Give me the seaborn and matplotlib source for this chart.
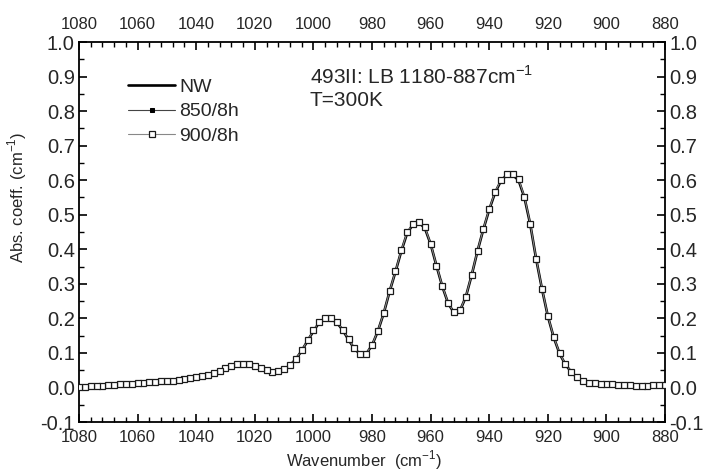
import matplotlib
matplotlib.use("Agg")
import matplotlib.pyplot as plt
import seaborn as sns
import pandas as pd
from matplotlib.ticker import MultipleLocator

wavenumber = [1080, 1078, 1076, 1074, 1072, 1070, 1068, 1066, 1064, 1062,
              1060, 1058, 1056, 1054, 1052, 1050, 1048, 1046, 1044, 1042,
              1040, 1038, 1036, 1034, 1032, 1030, 1028, 1026, 1024, 1022,
              1020, 1018, 1016, 1014, 1012, 1010, 1008, 1006, 1004, 1002,
              1000, 998, 996, 994, 992, 990, 988, 986, 984, 982,
              980, 978, 976, 974, 972, 970, 968, 966, 964, 962,
              960, 958, 956, 954, 952, 950, 948, 946, 944, 942,
              940, 938, 936, 934, 932, 930, 928, 926, 924, 922,
              920, 918, 916, 914, 912, 910, 908, 906, 904, 902,
              900, 898, 896, 894, 892, 890, 888, 886, 884, 882, 880]

nw = [0.000, 0.001, 0.002, 0.003, 0.004, 0.005, 0.006, 0.008, 0.009, 0.011,
      0.012, 0.013, 0.014, 0.016, 0.017, 0.018, 0.019, 0.021, 0.023, 0.025,
      0.028, 0.032, 0.036, 0.041, 0.047, 0.054, 0.061, 0.066, 0.068, 0.066,
      0.061, 0.055, 0.049, 0.045, 0.046, 0.052, 0.064, 0.082, 0.106, 0.135,
      0.163, 0.188, 0.200, 0.198, 0.188, 0.166, 0.138, 0.112, 0.096, 0.097,
      0.122, 0.163, 0.215, 0.278, 0.335, 0.395, 0.447, 0.472, 0.477, 0.462,
      0.415, 0.352, 0.292, 0.243, 0.216, 0.222, 0.262, 0.325, 0.395, 0.458,
      0.515, 0.564, 0.598, 0.616, 0.615, 0.600, 0.550, 0.472, 0.372, 0.285,
      0.206, 0.145, 0.098, 0.066, 0.045, 0.028, 0.018, 0.013, 0.011, 0.010,
      0.009, 0.008, 0.007, 0.006, 0.005, 0.004, 0.004, 0.004, 0.005, 0.005, 0.006]

s850 = [0.001, 0.002, 0.003, 0.004, 0.005, 0.006, 0.007, 0.008, 0.010, 0.011,
        0.012, 0.014, 0.015, 0.016, 0.017, 0.018, 0.020, 0.022, 0.024, 0.026,
        0.029, 0.032, 0.037, 0.042, 0.048, 0.055, 0.062, 0.067, 0.069, 0.067,
        0.062, 0.055, 0.049, 0.046, 0.047, 0.053, 0.065, 0.083, 0.107, 0.136,
        0.164, 0.189, 0.201, 0.199, 0.189, 0.167, 0.139, 0.113, 0.097, 0.098,
        0.123, 0.164, 0.216, 0.279, 0.336, 0.396, 0.448, 0.473, 0.478, 0.463,
        0.416, 0.353, 0.293, 0.244, 0.217, 0.223, 0.263, 0.326, 0.396, 0.459,
        0.516, 0.565, 0.600, 0.618, 0.617, 0.602, 0.551, 0.473, 0.373, 0.286,
        0.207, 0.146, 0.099, 0.067, 0.046, 0.029, 0.019, 0.014, 0.012, 0.011,
        0.010, 0.009, 0.008, 0.007, 0.006, 0.005, 0.005, 0.005, 0.006, 0.006, 0.007]

s900 = [0.001, 0.002, 0.003, 0.004, 0.005, 0.006, 0.007, 0.009, 0.010, 0.011,
        0.013, 0.014, 0.015, 0.016, 0.018, 0.019, 0.020, 0.022, 0.024, 0.026,
        0.029, 0.033, 0.037, 0.042, 0.048, 0.055, 0.062, 0.067, 0.069, 0.067,
        0.062, 0.056, 0.050, 0.046, 0.047, 0.053, 0.065, 0.083, 0.107, 0.136,
        0.165, 0.190, 0.202, 0.200, 0.189, 0.167, 0.139, 0.113, 0.097, 0.098,
        0.123, 0.164, 0.216, 0.279, 0.336, 0.397, 0.449, 0.474, 0.479, 0.464,
        0.416, 0.353, 0.293, 0.244, 0.217, 0.223, 0.263, 0.326, 0.396, 0.459,
        0.517, 0.566, 0.601, 0.619, 0.618, 0.603, 0.552, 0.474, 0.373, 0.286,
        0.207, 0.146, 0.099, 0.067, 0.046, 0.029, 0.019, 0.014, 0.012, 0.011,
        0.010, 0.009, 0.008, 0.007, 0.006, 0.005, 0.005, 0.005, 0.006, 0.006, 0.007]

series_names = ["NW", "850/8h", "900/8h"]
x_major_ticks = [1080, 1060, 1040, 1020, 1000, 980, 960, 940, 920, 900, 880]
y_major_ticks = [-0.1, 0.0, 0.1, 0.2, 0.3, 0.4, 0.5, 0.6, 0.7, 0.8, 0.9, 1.0]

sns.set_style("ticks")
plt.rcParams["font.family"] = ["Liberation Sans", "DejaVu Sans"]
plt.rcParams["mathtext.fontset"] = "custom"
plt.rcParams["mathtext.rm"] = "Liberation Sans"

df = pd.DataFrame({"w": wavenumber, "NW": nw, "850/8h": s850, "900/8h": s900})

fig = plt.figure(figsize=(7.07, 4.73), dpi=100)
ax = fig.add_axes([0.1117, 0.1078, 0.829, 0.8034])

sns.lineplot(data=df, x="w", y="850/8h", ax=ax, color="#444444", lw=0.8,
             marker="s", markersize=3.5, markerfacecolor="black",
             markeredgecolor="black", label="850/8h", zorder=2)
sns.lineplot(data=df, x="w", y="NW", ax=ax, color="black", lw=1.9,
             label="NW", zorder=3)
sns.lineplot(data=df, x="w", y="900/8h", ax=ax, color="#888888", lw=0.8,
             marker="s", markersize=3.8, markerfacecolor="white",
             markeredgecolor="#1a1a1a", markeredgewidth=0.9,
             label="900/8h", zorder=4)

ax.set_xlim(1080, 880)
ax.set_ylim(-0.1, 1.0)
ax.set_xticks(x_major_ticks)
ax.set_yticks(y_major_ticks)
ax.xaxis.set_minor_locator(MultipleLocator(4))
ax.yaxis.set_minor_locator(MultipleLocator(0.05))
ax.set_xticklabels([str(t) for t in x_major_ticks])
ax.set_yticklabels([f"{t:.1f}" for t in y_major_ticks])

ax.tick_params(which="both", direction="in", top=True, right=True,
               labeltop=False, labelright=True, color="black")
ax.tick_params(which="major", length=6, width=1.2)
ax.tick_params(which="minor", length=3.5, width=1.0)
ax.tick_params(axis="x", labelsize=12, pad=6)
ax.tick_params(axis="y", labelsize=14.5, pad=3)
for sp in ax.spines.values():
    sp.set_linewidth(1.3)
    sp.set_color("black")

top = ax.secondary_xaxis("top")
top.set_xticks(x_major_ticks)
top.set_xticklabels([str(t) for t in x_major_ticks])
top.tick_params(axis="x", direction="in", length=0, labelsize=12, pad=7)
top.spines["top"].set_visible(False)

ax.set_xlabel("Wavenumber  (cm$^{-1}$)", fontsize=12)
ax.xaxis.set_label_coords(0.486, -0.07)
ax.set_ylabel("Abs. coeff. (cm$^{-1}$)", fontsize=12)
ax.yaxis.set_label_coords(-0.086, 0.59)

ax.text(0.394, 0.938, "493II: LB 1180-887cm$^{-1}$", transform=ax.transAxes,
        fontsize=15, va="top", ha="left")
ax.text(0.394, 0.870, "T=300K", transform=ax.transAxes,
        fontsize=15, va="top", ha="left")

handles, labels = ax.get_legend_handles_labels()
order = [labels.index(n) for n in series_names]
ax.legend([handles[i] for i in order], [labels[i] for i in order],
          loc="upper left", bbox_to_anchor=(0.071, 0.925), frameon=False,
          fontsize=14, handlelength=2.4, handletextpad=0.2,
          labelspacing=0.35, borderaxespad=0)

fig.savefig("out.png", dpi=100)
